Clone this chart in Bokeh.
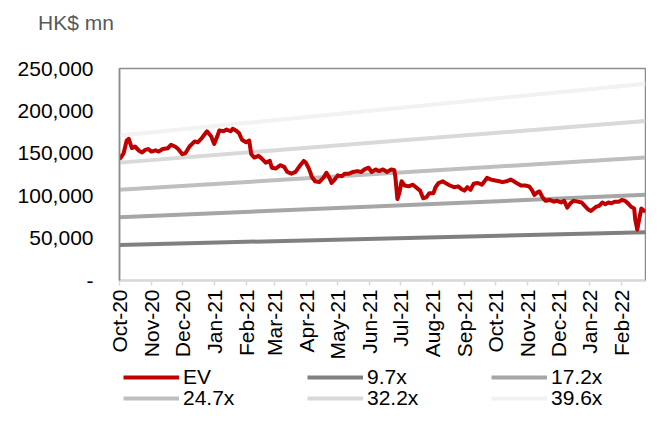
import math
from datetime import datetime
from bokeh.plotting import figure
from bokeh.layouts import column
from bokeh.models import (Range1d, FixedTicker, DatetimeTickFormatter, Legend, LegendItem, Div)
from bokeh.embed import file_html
from bokeh.resources import INLINE

# ---------------- data ----------------
unit_label = "HK$ mn"

ev_dates = [
    "2020-10-01", "2020-10-05", "2020-10-08", "2020-10-10", "2020-10-13", "2020-10-16", "2020-10-20",
    "2020-10-23", "2020-10-26", "2020-10-29", "2020-11-01", "2020-11-05", "2020-11-08", "2020-11-12",
    "2020-11-17", "2020-11-20", "2020-11-24", "2020-11-27", "2020-12-01", "2020-12-04", "2020-12-08",
    "2020-12-13", "2020-12-16", "2020-12-20", "2020-12-25", "2020-12-29", "2021-01-01", "2021-01-04",
    "2021-01-06", "2021-01-10", "2021-01-13", "2021-01-17", "2021-01-19", "2021-01-22", "2021-01-25",
    "2021-01-28", "2021-02-01", "2021-02-04", "2021-02-06", "2021-02-09", "2021-02-13", "2021-02-16",
    "2021-02-20", "2021-02-24", "2021-02-26", "2021-03-02", "2021-03-06", "2021-03-10", "2021-03-13",
    "2021-03-17", "2021-03-21", "2021-03-25", "2021-03-29", "2021-03-31", "2021-04-03", "2021-04-06",
    "2021-04-09", "2021-04-13", "2021-04-17", "2021-04-20", "2021-04-23", "2021-04-25", "2021-04-28",
    "2021-05-01", "2021-05-05", "2021-05-08", "2021-05-12", "2021-05-16", "2021-05-20", "2021-05-24",
    "2021-05-27", "2021-05-31", "2021-06-03", "2021-06-07", "2021-06-10", "2021-06-14", "2021-06-18",
    "2021-06-22", "2021-06-25", "2021-06-26", "2021-06-28", "2021-06-30", "2021-07-02", "2021-07-05",
    "2021-07-09", "2021-07-13", "2021-07-16", "2021-07-20", "2021-07-23", "2021-07-26", "2021-07-29",
    "2021-08-02", "2021-08-04", "2021-08-07", "2021-08-11", "2021-08-15", "2021-08-18", "2021-08-22",
    "2021-08-26", "2021-08-29", "2021-09-01", "2021-09-04", "2021-09-07", "2021-09-10", "2021-09-14",
    "2021-09-18", "2021-09-20", "2021-09-23", "2021-09-27", "2021-10-01", "2021-10-05", "2021-10-08",
    "2021-10-12", "2021-10-16", "2021-10-19", "2021-10-23", "2021-10-26", "2021-10-30", "2021-11-03",
    "2021-11-06", "2021-11-08", "2021-11-11", "2021-11-13", "2021-11-16", "2021-11-19", "2021-11-23",
    "2021-11-27", "2021-11-30", "2021-12-04", "2021-12-07", "2021-12-10", "2021-12-13", "2021-12-16",
    "2021-12-20", "2021-12-24", "2021-12-27", "2021-12-30", "2022-01-02", "2022-01-04", "2022-01-07",
    "2022-01-10", "2022-01-13", "2022-01-16", "2022-01-19", "2022-01-22", "2022-01-25", "2022-01-29",
    "2022-02-01", "2022-02-04", "2022-02-07", "2022-02-10", "2022-02-13", "2022-02-14", "2022-02-16",
    "2022-02-18", "2022-02-20", "2022-02-23", "2022-02-24",
]
ev_values = [
    143000, 150000, 165000, 167000, 156000, 158000, 153000,
    151000, 154000, 155000, 152000, 153500, 152000, 155000,
    156000, 160000, 158000, 155000, 149000, 150000, 158000,
    164000, 163000, 168000, 176000, 170000, 161000, 170000,
    177000, 176000, 178000, 176000, 179000, 177000, 174000,
    166000, 163000, 165000, 149000, 145000, 147000, 144000,
    139000, 141000, 133000, 132000, 136000, 134000, 128000,
    126000, 128000, 135000, 141000, 139000, 132000, 122000,
    117000, 116000, 121000, 127000, 121000, 115000, 119000,
    124000, 123000, 126000, 126000, 128000, 129000, 128000,
    131000, 133000, 128000, 131000, 129000, 131000, 128000,
    131000, 130000, 122000, 96000, 104000, 117000, 112000,
    111000, 113000, 110000, 106000, 97000, 98000, 103000,
    103000, 110000, 115000, 117000, 114000, 112000, 110000,
    111000, 108000, 106000, 110000, 107000, 114000, 115000,
    113000, 116000, 121000, 119000, 118000, 117000, 116000,
    117000, 119000, 117000, 114000, 112000, 112000, 111000,
    106000, 101000, 104000, 105000, 98000, 94000, 95000,
    93000, 94000, 92000, 94000, 86000, 91000, 94000,
    93000, 92000, 88000, 84000, 82000, 84000, 87000,
    88000, 92000, 90000, 92000, 91000, 93000, 93000,
    95000, 94000, 91000, 87000, 85000, 72000, 60000,
    73000, 85000, 82000, 81000,
]

band_names = ["9.7x", "17.2x", "24.7x", "32.2x", "39.6x"]
band_dates = ["2020-10-01", "2022-02-24"]
band_start = [42000, 74500, 107000, 139000, 171000]
band_end = [57000, 101000, 145000, 188000, 232000]
band_colors = ["#808080", "#A6A6A6", "#BFBFBF", "#D9D9D9", "#F2F2F2"]
ev_name = "EV"
ev_color = "#C00000"

month_ticks = ["2020-10-01", "2020-11-01", "2020-12-01", "2021-01-01", "2021-02-01", "2021-03-01",
               "2021-04-01", "2021-05-01", "2021-06-01", "2021-07-01", "2021-08-01", "2021-09-01",
               "2021-10-01", "2021-11-01", "2021-12-01", "2022-01-01", "2022-02-01"]
y_ticks = [0, 50000, 100000, 150000, 200000, 250000]
y_labels = ["-", "50,000", "100,000", "150,000", "200,000", "250,000"]

# ---------------- helpers ----------------
def to_dt(s):
    return datetime.strptime(s, "%Y-%m-%d")

def to_ms(s):
    return (to_dt(s) - datetime(1970, 1, 1)).total_seconds() * 1000.0

FONT = "Liberation Sans"
FS = "21px"

x_range = Range1d(to_dt("2020-10-01"), to_dt("2022-02-24"))

def add_series(fig):
    rs = []
    for s, e, c in zip(band_start, band_end, band_colors):
        rs.append(fig.line([to_dt(d) for d in band_dates], [s, e], line_color=c, line_width=4))
    ev = fig.line([to_dt(d) for d in ev_dates], ev_values, line_color=ev_color, line_width=4,
                  line_join="round")
    return ev, rs

# ---------------- unit label strip ----------------
head = Div(text=('<div style="padding:11px 0 0 38px; font-family:\'Liberation Sans\'; '
                 'font-size:21px; line-height:24px; color:#595959; white-space:nowrap;">'
                 + unit_label + '</div>'),
           width=646, height=36, margin=(0, 0, 0, 0))

# ---------------- main chart ----------------
p = figure(width=646, height=326, x_axis_type="datetime", output_backend="svg",
           toolbar_location=None, min_border_left=119, min_border_right=1,
           min_border_top=32, min_border_bottom=79, x_range=x_range,
           y_range=Range1d(0, 250000))
p.grid.visible = False
p.outline_line_color = "#8C8C8C"
p.outline_line_width = 1.5
p.background_fill_color = "white"
p.border_fill_color = "white"

add_series(p)

# y axis
ya = p.yaxis[0]
ya.ticker = FixedTicker(ticks=y_ticks)
ya.major_label_overrides = {t: l for t, l in zip(y_ticks, y_labels)}
ya.major_tick_line_color = None
ya.minor_tick_line_color = None
ya.axis_line_color = "#8C8C8C"
ya.axis_line_width = 1.5
ya.major_label_standoff = 20
ya.major_label_text_font = FONT
ya.major_label_text_font_size = FS
ya.major_label_text_color = "black"

# x axis
xa = p.xaxis[0]
xa.ticker = FixedTicker(ticks=[to_ms(d) for d in month_ticks])
xa.formatter = DatetimeTickFormatter(months="%b-%y", days="%b-%y", hours="%b-%y",
                                     years="%b-%y", context=None)
xa.major_label_orientation = math.pi / 2
xa.major_label_text_font = FONT
xa.major_label_text_font_size = FS
xa.major_label_text_color = "black"
xa.major_label_standoff = 4
xa.axis_line_color = "#D9D9D9"
xa.axis_line_width = 1.5
xa.major_tick_line_color = "#D9D9D9"
xa.major_tick_line_width = 1.5
xa.major_tick_in = 0
xa.major_tick_out = 5
xa.minor_tick_line_color = None

# ---------------- legend strip ----------------
lgf = figure(width=646, height=48, output_backend="svg", toolbar_location=None,
             x_axis_location=None, y_axis_location=None, min_border_left=119,
             min_border_right=1, min_border_top=0, min_border_bottom=0,
             x_range=x_range, y_range=Range1d(300000, 310000))
lgf.grid.visible = False
lgf.outline_line_color = None
lgf.background_fill_color = "white"
lgf.border_fill_color = "white"

ev_r, band_rs = add_series(lgf)
names = [ev_name] + band_names
rends = [ev_r] + band_rs

def make_legend(idx, y):
    items = [LegendItem(label=names[i], renderers=[rends[i]]) for i in idx]
    return Legend(items=items, orientation="horizontal", location=(4, y),
                  glyph_width=56, glyph_height=20, label_standoff=4, label_width=60,
                  spacing=64, padding=0, margin=0, border_line_color=None,
                  background_fill_alpha=0, label_text_font=FONT, label_text_font_size=FS,
                  label_text_color="black", label_height=20)

lgf.add_layout(make_legend([0, 1, 2], 21), "center")
lgf.add_layout(make_legend([3, 4, 5], 0), "center")

open("out.html", "w").write(file_html(column(head, p, lgf, spacing=0), INLINE))
